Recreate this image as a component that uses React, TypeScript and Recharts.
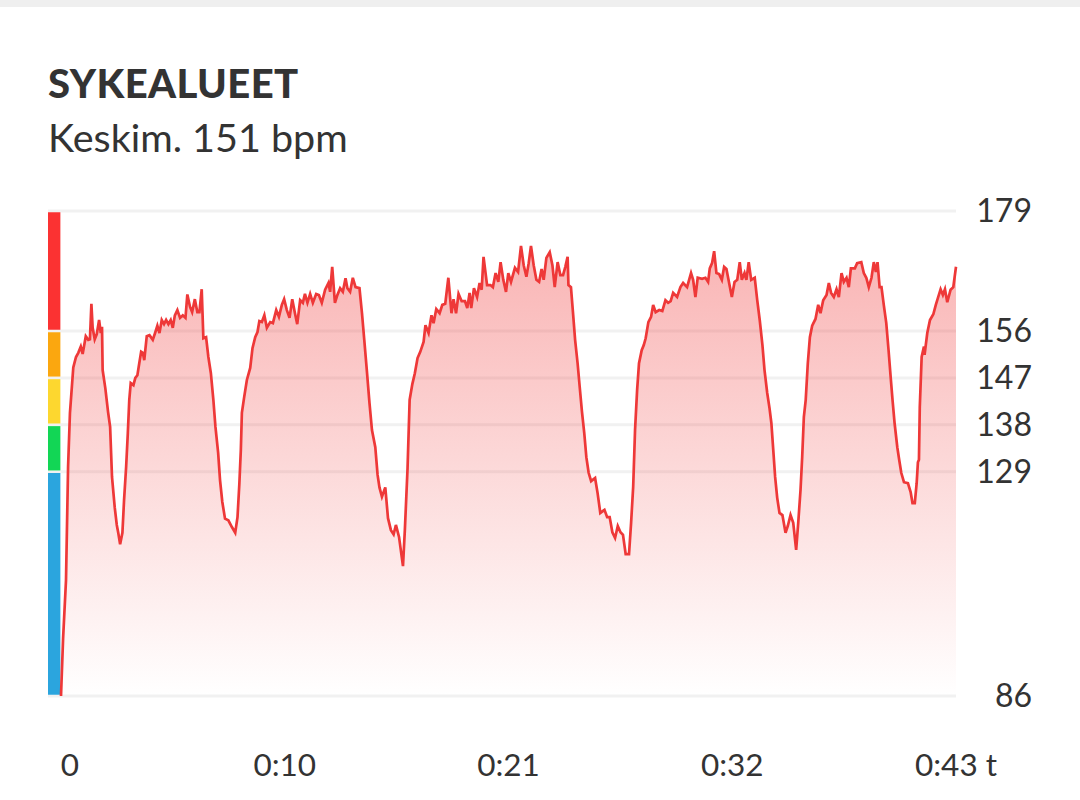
import React from 'react';
import { AreaChart, Area, XAxis, YAxis, CartesianGrid, ReferenceArea } from 'recharts';

const FONT = 'Lato, "Noto Sans", sans-serif';
const TEXT = '#333333';

// y axis ticks are the heart rate zone limits
const bpmTicks = [86, 129, 138, 147, 156, 179];
const zoneColors = ['#2ba5de', '#12d655', '#fdd72f', '#fba70f', '#fb3232'];

const timeTicks = [0, 10.75, 21.5, 32.25, 43];
const timeLabels = ['0', '0:10', '0:21', '0:32', '0:43 t'];

const minutes = [
  0, 0.1, 0.24, 0.34, 0.43, 0.59, 0.72, 0.83, 0.95, 1.04, 1.19, 1.31, 1.39, 1.46, 1.52, 1.62, 1.72, 1.83, 1.91, 1.97,
  2.0, 2.13, 2.26, 2.36, 2.45, 2.58, 2.68, 2.75, 2.84, 2.95, 3.03, 3.13, 3.21, 3.28, 3.35, 3.48, 3.57, 3.67, 3.76, 3.85,
  3.93, 4.0, 4.12, 4.25, 4.41, 4.52, 4.63, 4.73, 4.84, 4.95, 5.05, 5.16, 5.27, 5.37, 5.47, 5.59, 5.72, 5.85, 5.98, 6.07,
  6.2, 6.3, 6.43, 6.55, 6.65, 6.76, 6.84, 6.97, 7.08, 7.2, 7.32, 7.42, 7.55, 7.64, 7.75, 7.88, 8.04, 8.21, 8.37, 8.48,
  8.57, 8.64, 8.69, 8.8, 8.93, 9.09, 9.2, 9.33, 9.44, 9.53, 9.65, 9.77, 9.89, 10.05, 10.18, 10.34, 10.47, 10.61, 10.72, 10.85,
  10.98, 11.11, 11.24, 11.35, 11.49, 11.62, 11.72, 11.84, 11.97, 12.1, 12.26, 12.39, 12.53, 12.69, 12.85, 12.93, 13.03, 13.16, 13.28, 13.41,
  13.54, 13.67, 13.76, 13.89, 14.02, 14.15, 14.34, 14.46, 14.57, 14.7, 14.82, 14.94, 15.1, 15.21, 15.3, 15.42, 15.58, 15.71, 15.85, 15.98,
  16.09, 16.24, 16.43, 16.52, 16.65, 16.75, 16.88, 17.0, 17.13, 17.26, 17.42, 17.51, 17.66, 17.8, 17.9, 18.03, 18.19, 18.32, 18.46, 18.61,
  18.76, 18.86, 18.98, 19.1, 19.25, 19.41, 19.52, 19.63, 19.71, 19.84, 19.99, 20.11, 20.21, 20.3, 20.47, 20.63, 20.75, 20.88, 21.01, 21.12,
  21.25, 21.38, 21.49, 21.62, 21.81, 21.96, 22.1, 22.23, 22.36, 22.47, 22.58, 22.71, 22.84, 22.97, 23.09, 23.19, 23.32, 23.48, 23.61, 23.72,
  23.86, 23.99, 24.12, 24.23, 24.34, 24.38, 24.5, 24.6, 24.7, 24.82, 24.92, 25.03, 25.14, 25.24, 25.35, 25.47, 25.66, 25.78, 25.91, 26.11,
  26.24, 26.36, 26.49, 26.62, 26.75, 26.88, 27.0, 27.13, 27.29, 27.39, 27.49, 27.58, 27.68, 27.77, 27.9, 28.0, 28.09, 28.22, 28.35, 28.45,
  28.57, 28.74, 28.89, 29.04, 29.17, 29.29, 29.41, 29.6, 29.76, 29.89, 30.08, 30.27, 30.37, 30.48, 30.59, 30.8, 30.96, 31.09, 31.17, 31.28,
  31.38, 31.49, 31.62, 31.75, 31.86, 31.97, 32.1, 32.23, 32.36, 32.49, 32.61, 32.71, 32.84, 32.93, 33.04, 33.16, 33.33, 33.45, 33.57, 33.7,
  33.8, 33.93, 34.04, 34.13, 34.22, 34.31, 34.41, 34.52, 34.66, 34.81, 34.92, 35.05, 35.18, 35.32, 35.42, 35.53, 35.61, 35.69, 35.78, 35.88,
  35.98, 36.09, 36.25, 36.38, 36.49, 36.62, 36.78, 36.89, 37.0, 37.13, 37.26, 37.37, 37.5, 37.61, 37.74, 37.85, 37.95, 38.14, 38.25, 38.45,
  38.57, 38.69, 38.81, 38.94, 39.05, 39.15, 39.23, 39.33, 39.42, 39.53, 39.65, 39.76, 39.86, 39.95, 40.05, 40.18, 40.27, 40.37, 40.5, 40.69,
  40.82, 40.91, 41.02, 41.11, 41.17, 41.22, 41.26, 41.35, 41.46, 41.49, 41.62, 41.75, 41.91, 42.03, 42.26, 42.37, 42.47, 42.58, 42.74, 42.87, 43,
];

const bpm = [
  86, 97, 108.2, 130, 140.3, 149, 151, 151.8, 153, 151.6, 155, 154.3, 154.4, 161.2, 156.6, 154.4, 155.4, 158.1, 155.6, 156.8,
  148.5, 145, 140.5, 137.6, 128, 122.2, 118.8, 117.3, 115.1, 117.3, 123.6, 130, 136.4, 142.8, 146, 145.6, 147, 147.5, 149.8, 152,
  151.8, 150.4, 155, 155.2, 154.3, 155.6, 157, 155.6, 158.1, 157.3, 158.1, 157.3, 158.1, 156.6, 159, 160, 158.5, 159, 158.5, 163,
  160.6, 159.6, 162.1, 159.6, 159.6, 164, 154.6, 154.8, 151, 147.9, 142.8, 137.6, 132.6, 127.4, 123.2, 120, 119.7, 118.4, 117.3, 120.3,
  126.8, 133.2, 140.3, 143.3, 146.6, 148.9, 152.7, 154.8, 155.8, 157.9, 157.7, 159, 156.6, 157.7, 157.5, 160, 158.7, 161, 162.1, 160,
  158.5, 162.1, 159.4, 157.3, 161.9, 161.4, 163.1, 161.4, 163.1, 161.4, 163.1, 162.9, 161.4, 163.9, 165.2, 163.5, 168.3, 161.4, 162.9, 164.2,
  163.5, 166.1, 164.2, 163.5, 166.2, 164.4, 164.2, 159.4, 154.3, 148.1, 142.2, 137, 133.7, 128.4, 126, 124.2, 126, 120.1, 117.8, 117,
  118.8, 116.5, 110.9, 117.8, 129.7, 142.8, 145.8, 147.9, 150.8, 152, 153.9, 157.1, 155.6, 159, 157.5, 160.2, 159.4, 161, 161.2, 166.2,
  159.4, 162.1, 159.4, 163.1, 161.7, 161.7, 160.4, 163.3, 160.4, 164.2, 162.5, 165.2, 163.9, 170.2, 164.8, 164.8, 164.4, 167.1, 165.4, 169.2,
  165.8, 163.5, 167.1, 165.4, 168.1, 167.3, 172.3, 168.6, 166.4, 169, 172.3, 168.6, 165.8, 165.4, 167.9, 165.8, 170, 171.1, 168.6, 164.4,
  169.2, 166.7, 166.7, 168.3, 170.2, 164.8, 164.4, 159.4, 154.3, 149.8, 145.3, 140.5, 136.4, 131.8, 128.8, 127.2, 127.8, 124.9, 121.1, 121.7,
  120.3, 120.3, 117.4, 116.3, 118.6, 117.4, 116.9, 113.2, 113.2, 119.2, 126.1, 137, 144.7, 149.8, 152.3, 153.3, 154.6, 157.7, 158.7, 161,
  159.6, 160, 159.8, 161.9, 161.4, 161.7, 163.3, 162.5, 164.4, 165.2, 164.4, 167.1, 165.8, 162.5, 166.2, 166, 166.2, 165.4, 168, 169,
  171.3, 167.1, 166.9, 165.8, 168.3, 167.9, 165.2, 162.5, 165.4, 165.8, 169.2, 165.8, 167.1, 165.8, 169.2, 165.8, 166.2, 161.9, 158.1, 153.3,
  148.5, 144.1, 141.2, 138.3, 133.2, 128, 124, 121.1, 120.7, 117.3, 118.6, 120.7, 119.2, 114, 119.2, 125.5, 131.8, 139.5, 142.8, 149.8,
  154.8, 157, 158.3, 161, 159.4, 161.9, 162.9, 165.2, 163.3, 162.5, 164, 162.5, 167.1, 165.4, 166.2, 164.4, 168, 168, 169, 169.2,
  167.1, 166.2, 164.4, 166.2, 169.2, 167.3, 169.2, 164.4, 164.4, 161, 157.5, 152.3, 147.2, 142.8, 138.3, 133.7, 131.3, 128.8, 127, 126.8,
  125.1, 123, 123, 126.8, 130.8, 131.3, 141.4, 151, 153, 151.4, 155.6, 158.1, 159.2, 161, 164, 162.9, 164, 161.5, 163.9, 164.4, 168.3,
];

const data = minutes.map((minute, i) => ({ minute, bpm: bpm[i] }));

const TimeTick = ({ x, y, index }: any) => (
  <text
    x={index === 0 ? x + 9 : x}
    y={y + 72}
    textAnchor="middle"
    fontFamily={FONT}
    fontSize={31.5}
    fill={TEXT}
  >
    {timeLabels[index]}
  </text>
);

const BpmTick = ({ y, payload }: any) => (
  <text x={1032} y={y + 11} textAnchor="end" fontFamily={FONT} fontSize={32} fill={TEXT}>
    {payload.value}
  </text>
);

export default function App() {
  return (
    <div style={{ position: 'absolute', left: 0, top: 0, width: 1080, height: 800, background: '#fff', overflow: 'hidden' }}>
      <div style={{ position: 'absolute', left: 0, top: 0, width: 1080, height: 7, background: '#efefef' }} />
      <div style={{ position: 'absolute', left: 48, top: 60, fontFamily: FONT, fontWeight: 900, fontSize: 40, letterSpacing: 0.4, lineHeight: '46px', color: TEXT }}>
        SYKEALUEET
      </div>
      <div style={{ position: 'absolute', left: 48, top: 114, fontFamily: FONT, fontSize: 39.5, lineHeight: '46px', color: TEXT }}>
        Keskim. 151 bpm
      </div>
      <AreaChart width={1080} height={800} data={data} margin={{ top: 211, right: 0, bottom: 0, left: 48 }}>
        <defs>
          <linearGradient id="hrFill" x1="0" y1="0" x2="0" y2="1">
            <stop offset="0%" stopColor="#f03a3a" stopOpacity={0.38} />
            <stop offset="100%" stopColor="#f03a3a" stopOpacity={0} />
          </linearGradient>
        </defs>
        <CartesianGrid horizontal vertical={false} stroke="#f1f1f1" strokeWidth={3} />
        <XAxis
          dataKey="minute"
          type="number"
          domain={[-0.625, 43]}
          ticks={timeTicks}
          interval={0}
          height={104}
          axisLine={false}
          tickLine={false}
          tick={<TimeTick />}
        />
        <YAxis
          orientation="right"
          type="number"
          domain={[86, 179]}
          ticks={bpmTicks}
          interval={0}
          width={124}
          axisLine={false}
          tickLine={false}
          tick={<BpmTick />}
        />
        {zoneColors.map((color, i) => (
          <ReferenceArea
            key={color}
            x1={-0.625}
            x2={-0.03}
            y1={bpmTicks[i] + 0.25}
            y2={bpmTicks[i + 1] - 0.25}
            fill={color}
            fillOpacity={1}
            stroke="none"
          />
        ))}
        <Area
          type="linear"
          dataKey="bpm"
          stroke="#ee3838"
          strokeWidth={2.7}
          fill="url(#hrFill)"
          fillOpacity={1}
          dot={false}
          activeDot={false}
          isAnimationActive={false}
        />
      </AreaChart>
    </div>
  );
}
